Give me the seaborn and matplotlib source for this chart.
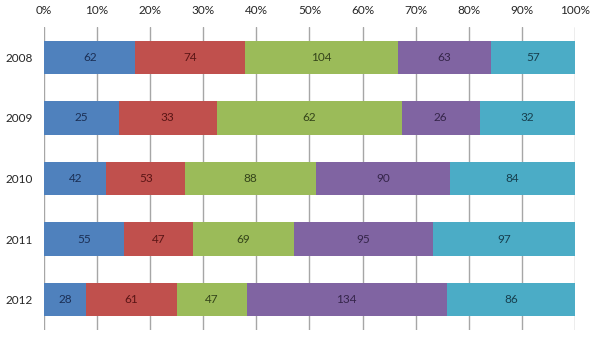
import numpy as np
import pandas as pd
import matplotlib
matplotlib.use("Agg")
import matplotlib.pyplot as plt
import seaborn as sns
from matplotlib.ticker import PercentFormatter

years = ["2008", "2009", "2010", "2011", "2012"]
series_a = [62, 25, 42, 55, 28]
series_b = [74, 33, 53, 47, 61]
series_c = [104, 62, 88, 69, 47]
series_d = [63, 26, 90, 95, 134]
series_e = [57, 32, 84, 97, 86]

series = [series_a, series_b, series_c, series_d, series_e]
fills = ["#4F81BD", "#C0504D", "#9BBB59", "#8064A2", "#4BACC6"]
label_colors = ["#1B2F55", "#5A1515", "#34441A", "#35254A", "#173F4E"]

sns.set_theme(style="white")
plt.rcParams["font.family"] = ["Lato", "DejaVu Sans"]

values = np.array(series, dtype=float)          # shape: (series, years)
totals = values.sum(axis=0)
shares = values / totals * 100
cum = np.cumsum(shares, axis=0)

fig = plt.figure(figsize=(6.0, 3.45), dpi=100)
ax = fig.add_axes([0.0733, 0.0435, 0.885, 0.878])

# Stacked bars: draw cumulative totals from the outermost series inward
for i in range(len(series) - 1, -1, -1):
    df = pd.DataFrame({"year": years, "pct": cum[i]})
    sns.barplot(data=df, x="pct", y="year", orient="h", color=fills[i],
                saturation=1, width=0.55, linewidth=0, ax=ax, zorder=2)

# Value labels centred in each segment
for i in range(len(series)):
    for j, yr in enumerate(years):
        start = cum[i - 1][j] if i > 0 else 0.0
        mid = start + shares[i][j] / 2
        ax.text(mid, j, f"{int(values[i][j])}", ha="center", va="center",
                fontsize=8.5, color=label_colors[i], zorder=3)

ax.set_xlim(0, 100)
ax.set_ylim(4.5, -0.5)
ax.set_xticks(np.arange(0, 101, 10))
ax.xaxis.set_major_formatter(PercentFormatter(decimals=0))
ax.xaxis.tick_top()
ax.xaxis.set_label_position("top")
ax.set_xlabel("")
ax.set_ylabel("")
ax.grid(axis="x", color="#A6A6A6", linewidth=1.0, zorder=0)
ax.grid(axis="y", visible=False)
ax.set_axisbelow(True)
for s in ax.spines.values():
    s.set_visible(False)
ax.tick_params(axis="x", length=0, pad=8, labelsize=8.5, colors="#262626")
ax.tick_params(axis="y", length=0, pad=8, labelsize=8.5, colors="#262626")

fig.savefig("out.png", dpi=100, facecolor="white")
